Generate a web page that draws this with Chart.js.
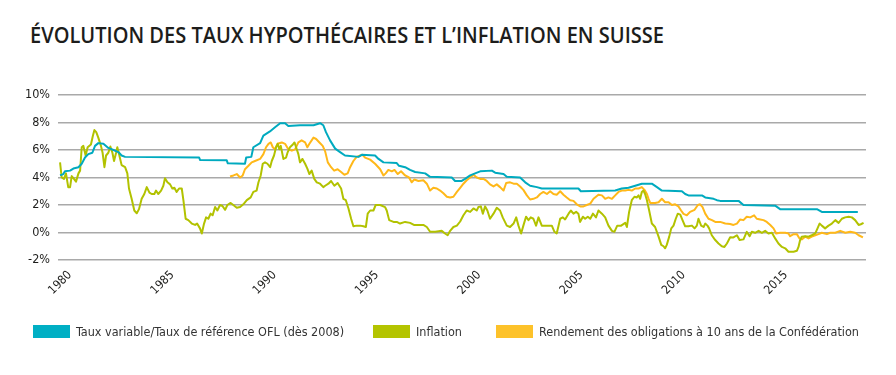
<!DOCTYPE html>
<html lang="fr">
<head>
<meta charset="UTF-8">
<title>Évolution des taux hypothécaires et l'inflation en Suisse</title>
<style>
    html, body { margin: 0; padding: 0; background: #fff; }
    body {
        width: 896px; height: 375px; position: relative; overflow: hidden;
        font-family: "Liberation Sans Narrow", "DejaVu Sans Condensed", sans-serif;
        color: #1d1d1b;
    }
    #title {
        position: absolute; left: 30px; top: 25px;
        font-family: "Open Sans", sans-serif; font-weight: 600;
        font-size: 21px; line-height: 21px; white-space: nowrap;
        transform-origin: 0 0; color: #1d1d1b;
    }
    #chart { position: absolute; left: 0; top: 0; }
    .item {
        position: absolute; top: 324px; font-size: 12.5px; line-height: 15px;
        white-space: nowrap; color: #333;
    }
    .item i {
        display: inline-block; width: 37px; height: 13px;
        vertical-align: -2px; margin-right: 6px;
    }
</style>
<script src="https://cdn.jsdelivr.net/npm/chart.js"></script>
</head>
<body>
<div id="title">ÉVOLUTION DES TAUX HYPOTHÉCAIRES ET L’INFLATION EN SUISSE</div>
<canvas id="chart" width="896" height="375"></canvas>
<div class="item" style="left:33px"><i style="background:#00afc4"></i>Taux variable/Taux de référence OFL (dès 2008)</div>
<div class="item" style="left:373px"><i style="background:#b4c400"></i>Inflation</div>
<div class="item" style="left:496px"><i style="background:#fdc22a"></i>Rendement des obligations à 10 ans de la Confédération</div>

<script>
// tick labels
const yearTicks = [1980, 1985, 1990, 1995, 2000, 2005, 2010, 2015];
const pctTicks = [-2, 0, 2, 4, 6, 8, 10];

// Taux variable / taux de référence OFL
const tauxYears = [1980.1, 1980.26, 1980.34, 1980.59, 1980.75, 1981.0, 1981.16, 1981.32, 1981.48, 1981.68,
    1981.81, 1981.97, 1982.22, 1982.46, 1982.71, 1982.95, 1983.11, 1983.28, 1986.9, 1986.95,
    1988.25, 1988.3, 1989.14, 1989.2, 1989.45, 1989.55, 1989.88, 1990.04, 1990.36, 1990.61,
    1990.86, 1991.1, 1991.26, 1991.83, 1992.49, 1992.81, 1992.97, 1993.1, 1993.3, 1993.55,
    1993.79, 1994.03, 1994.69, 1994.85, 1995.5, 1995.67, 1995.91, 1996.56, 1996.67, 1996.97,
    1997.21, 1997.46, 1997.95, 1998.19, 1999.25, 1999.41, 1999.74, 1999.9, 2000.15, 2000.39,
    2000.64, 2001.21, 2001.37, 2001.78, 2001.94, 2002.59, 2002.84, 2003.08, 2003.41, 2003.65,
    2005.44, 2005.56, 2007.24, 2007.56, 2007.89, 2008.22, 2008.54, 2009.03, 2009.28, 2009.52,
    2010.5, 2010.66, 2010.82, 2011.48, 2011.64, 2012.05, 2012.21, 2012.37, 2013.27, 2013.51,
    2015.06, 2015.3, 2017.1, 2017.34, 2019.1];
const tauxValues = [4.15, 4.25, 4.45, 4.5, 4.65, 4.75, 5.0, 5.45, 5.7, 5.8,
    6.3, 6.5, 6.45, 6.15, 6.0, 5.85, 5.6, 5.5, 5.45, 5.27,
    5.25, 5.03, 5.0, 5.45, 5.5, 6.2, 6.5, 7.05, 7.35, 7.65,
    7.95, 7.95, 7.75, 7.8, 7.8, 7.95, 7.8, 7.3, 6.7, 6.1,
    5.85, 5.6, 5.5, 5.65, 5.6, 5.35, 5.1, 5.05, 4.85, 4.75,
    4.55, 4.4, 4.3, 4.05, 4.0, 3.75, 3.75, 3.9, 4.15, 4.3,
    4.45, 4.5, 4.35, 4.25, 4.05, 4.0, 3.65, 3.4, 3.3, 3.2,
    3.2, 3.0, 3.05, 3.2, 3.25, 3.4, 3.55, 3.55, 3.3, 3.05,
    3.0, 2.8, 2.7, 2.7, 2.55, 2.45, 2.35, 2.3, 2.3, 2.0,
    1.95, 1.7, 1.7, 1.5, 1.5];

// Inflation
const inflYears = [1980.1, 1980.18, 1980.29, 1980.39, 1980.5, 1980.59, 1980.67, 1980.78, 1980.88, 1981.0,
    1981.08, 1981.16, 1981.24, 1981.35, 1981.45, 1981.61, 1981.7, 1981.78, 1981.87, 1981.97,
    1982.1, 1982.18, 1982.27, 1982.35, 1982.46, 1982.56, 1982.66, 1982.74, 1982.84, 1982.9,
    1983.0, 1983.11, 1983.28, 1983.39, 1983.47, 1983.6, 1983.73, 1983.85, 1983.96, 1984.09,
    1984.22, 1984.34, 1984.47, 1984.58, 1984.71, 1984.79, 1984.9, 1985.04, 1985.15, 1985.23,
    1985.35, 1985.48, 1985.59, 1985.69, 1985.8, 1985.92, 1986.05, 1986.13, 1986.24, 1986.37,
    1986.54, 1986.7, 1986.8, 1986.94, 1987.03, 1987.14, 1987.24, 1987.35, 1987.46, 1987.56,
    1987.68, 1987.79, 1987.92, 1988.04, 1988.17, 1988.28, 1988.44, 1988.57, 1988.74, 1988.9,
    1989.06, 1989.23, 1989.42, 1989.55, 1989.71, 1989.8, 1989.91, 1990.01, 1990.12, 1990.24,
    1990.37, 1990.45, 1990.56, 1990.66, 1990.74, 1990.82, 1990.89, 1991.02, 1991.15, 1991.23,
    1991.34, 1991.48, 1991.56, 1991.64, 1991.75, 1991.83, 1991.95, 1992.08, 1992.19, 1992.29,
    1992.4, 1992.53, 1992.65, 1992.81, 1992.97, 1993.06, 1993.22, 1993.35, 1993.51, 1993.67,
    1993.84, 1993.95, 1994.07, 1994.2, 1994.33, 1994.44, 1994.6, 1994.77, 1994.93, 1995.05,
    1995.14, 1995.26, 1995.42, 1995.53, 1995.75, 1995.99, 1996.07, 1996.19, 1996.4, 1996.56,
    1996.72, 1996.97, 1997.21, 1997.4, 1997.62, 1997.86, 1998.03, 1998.19, 1998.44, 1998.76,
    1998.92, 1999.05, 1999.17, 1999.33, 1999.5, 1999.66, 1999.82, 1999.98, 2000.15, 2000.31,
    2000.47, 2000.55, 2000.67, 2000.77, 2000.88, 2000.99, 2001.12, 2001.29, 2001.45, 2001.61,
    2001.74, 2001.94, 2002.1, 2002.27, 2002.4, 2002.51, 2002.64, 2002.75, 2002.88, 2003.0,
    2003.11, 2003.24, 2003.37, 2003.49, 2003.65, 2003.9, 2004.14, 2004.27, 2004.38, 2004.55,
    2004.68, 2004.79, 2004.96, 2005.07, 2005.2, 2005.33, 2005.44, 2005.52, 2005.66, 2005.77,
    2005.9, 2006.02, 2006.15, 2006.3, 2006.42, 2006.59, 2006.75, 2006.91, 2007.08, 2007.2,
    2007.34, 2007.53, 2007.73, 2007.81, 2007.92, 2008.05, 2008.18, 2008.3, 2008.38, 2008.46,
    2008.54, 2008.62, 2008.7, 2008.79, 2008.9, 2009.03, 2009.19, 2009.36, 2009.49, 2009.6,
    2009.68, 2009.76, 2009.88, 2009.98, 2010.09, 2010.2, 2010.3, 2010.42, 2010.53, 2010.66,
    2010.82, 2010.99, 2011.12, 2011.23, 2011.31, 2011.44, 2011.56, 2011.64, 2011.75, 2011.83,
    2011.96, 2012.13, 2012.29, 2012.45, 2012.58, 2012.7, 2012.86, 2013.02, 2013.19, 2013.32,
    2013.51, 2013.67, 2013.81, 2013.92, 2014.08, 2014.25, 2014.41, 2014.57, 2014.73, 2014.9,
    2015.06, 2015.22, 2015.39, 2015.55, 2015.71, 2015.96, 2016.12, 2016.2, 2016.28, 2016.36,
    2016.53, 2016.69, 2016.85, 2017.02, 2017.13, 2017.23, 2017.34, 2017.5, 2017.67, 2017.83,
    2018.0, 2018.16, 2018.32, 2018.48, 2018.65, 2018.81, 2018.97, 2019.14, 2019.25, 2019.38];
const inflValues = [5.1, 4.0, 3.9, 4.3, 3.3, 3.3, 4.1, 3.9, 3.7, 4.3,
    4.5, 6.2, 6.3, 5.6, 6.2, 6.4, 7.0, 7.45, 7.3, 6.9,
    6.3, 5.8, 4.75, 5.6, 5.8, 6.25, 5.8, 5.2, 5.8, 6.2,
    5.6, 4.9, 4.75, 4.3, 3.2, 2.45, 1.6, 1.4, 1.7, 2.45,
    2.8, 3.3, 2.9, 2.8, 2.8, 3.05, 2.8, 3.05, 3.4, 3.95,
    3.65, 3.5, 3.2, 3.25, 2.95, 3.2, 3.2, 2.35, 1.0, 0.9,
    0.65, 0.55, 0.65, 0.3, -0.07, 0.65, 1.1, 1.0, 1.37, 1.25,
    1.85, 1.6, 2.0, 1.93, 1.65, 2.0, 2.15, 2.0, 1.8, 1.85,
    2.05, 2.35, 2.55, 2.95, 3.05, 3.65, 4.15, 5.0, 5.1, 5.0,
    4.75, 5.2, 5.6, 6.2, 6.45, 6.05, 6.3, 5.35, 5.45, 5.85,
    6.2, 6.4, 6.55, 6.2, 5.7, 5.1, 5.35, 5.0, 4.65, 4.25,
    4.5, 3.9, 3.65, 3.55, 3.3, 3.4, 3.55, 3.75, 3.4, 3.6,
    3.2, 2.45, 2.35, 1.75, 1.0, 0.45, 0.5, 0.5, 0.45, 0.4,
    1.37, 1.6, 1.6, 2.0, 2.0, 1.85, 1.6, 0.9, 0.77, 0.77,
    0.65, 0.77, 0.7, 0.55, 0.55, 0.55, 0.4, 0.05, 0.05, 0.12,
    -0.07, -0.2, 0.12, 0.4, 0.5, 0.8, 1.25, 1.6, 1.5, 1.75,
    1.6, 1.85, 1.9, 1.37, 1.9, 1.6, 1.0, 1.37, 1.8, 1.6,
    1.1, 0.5, 0.4, 0.65, 1.1, 0.5, -0.07, 0.5, 1.15, 0.9,
    1.1, 1.0, 0.5, 1.1, 0.5, 0.5, 0.5, 0.05, -0.07, 1.0,
    1.1, 0.95, 1.37, 1.6, 1.37, 1.5, 1.37, 0.77, 1.15, 1.0,
    1.15, 1.0, 1.37, 1.1, 1.6, 1.37, 1.1, 0.5, 0.12, 0.05,
    0.5, 0.5, 0.7, 0.4, 1.5, 2.35, 2.6, 2.55, 2.7, 2.45,
    2.95, 3.05, 2.8, 2.35, 1.6, 0.65, 0.4, -0.3, -0.9, -1.0,
    -1.15, -0.9, -0.3, 0.3, 0.5, 1.0, 1.37, 1.3, 0.9, 0.45,
    0.45, 0.5, 0.3, 0.5, 1.0, 0.5, 0.4, 0.65, 0.5, 0.3,
    -0.2, -0.55, -0.8, -1.0, -1.05, -0.8, -0.35, -0.36, -0.2, -0.55,
    -0.5, 0.05, -0.27, 0.05, -0.02, 0.12, -0.02, 0.12, -0.07, -0.02,
    -0.43, -0.8, -1.05, -1.15, -1.4, -1.4, -1.33, -1.05, -0.55, -0.3,
    -0.27, -0.3, -0.2, -0.07, 0.3, 0.65, 0.5, 0.3, 0.5, 0.65,
    0.9, 0.7, 1.0, 1.1, 1.15, 1.1, 0.9, 0.55, 0.6, 0.7];

// Rendement des obligations à 10 ans de la Confédération
const rendYears = [1988.41, 1988.58, 1988.74, 1988.9, 1989.03, 1989.14, 1989.31, 1989.47, 1989.63, 1989.88,
    1990.04, 1990.17, 1990.29, 1990.4, 1990.5, 1990.61, 1990.73, 1990.94, 1991.1, 1991.26,
    1991.43, 1991.59, 1991.75, 1991.91, 1992.08, 1992.19, 1992.29, 1992.49, 1992.62, 1992.78,
    1992.94, 1993.06, 1993.19, 1993.35, 1993.5, 1993.67, 1993.84, 1994.0, 1994.16, 1994.28,
    1994.44, 1994.6, 1994.77, 1994.88, 1995.01, 1995.26, 1995.5, 1995.75, 1995.91, 1996.02,
    1996.15, 1996.32, 1996.45, 1996.61, 1996.77, 1996.97, 1997.16, 1997.29, 1997.42, 1997.62,
    1997.86, 1998.03, 1998.19, 1998.35, 1998.52, 1998.68, 1998.84, 1999.01, 1999.17, 1999.33,
    1999.5, 1999.66, 1999.82, 1999.98, 2000.15, 2000.31, 2000.47, 2000.64, 2000.8, 2000.96,
    2001.12, 2001.29, 2001.45, 2001.61, 2001.78, 2001.91, 2002.1, 2002.27, 2002.43, 2002.59,
    2002.75, 2002.92, 2003.08, 2003.24, 2003.41, 2003.57, 2003.73, 2003.9, 2004.06, 2004.22,
    2004.38, 2004.55, 2004.71, 2004.87, 2005.04, 2005.2, 2005.36, 2005.53, 2005.69, 2005.85,
    2006.02, 2006.18, 2006.42, 2006.59, 2006.75, 2006.91, 2007.08, 2007.24, 2007.4, 2007.56,
    2007.73, 2007.89, 2008.05, 2008.22, 2008.38, 2008.54, 2008.67, 2008.79, 2008.87, 2008.95,
    2009.19, 2009.36, 2009.52, 2009.68, 2009.85, 2010.01, 2010.17, 2010.33, 2010.46, 2010.58,
    2010.74, 2010.9, 2011.12, 2011.28, 2011.39, 2011.51, 2011.64, 2011.8, 2011.97, 2012.13,
    2012.37, 2012.62, 2012.86, 2013.02, 2013.19, 2013.35, 2013.51, 2013.67, 2013.84, 2014.03,
    2014.16, 2014.33, 2014.49, 2014.65, 2014.82, 2014.98, 2015.11, 2015.3, 2015.55, 2015.71,
    2015.79, 2015.96, 2016.12, 2016.25, 2016.36, 2016.53, 2016.69, 2016.85, 2017.02, 2017.18,
    2017.34, 2017.59, 2017.75, 2018.0, 2018.24, 2018.49, 2018.73, 2018.97, 2019.14, 2019.35];
const rendValues = [4.07, 4.15, 4.25, 4.0, 4.15, 4.6, 4.85, 5.1, 5.2, 5.35,
    5.7, 6.2, 6.45, 6.55, 6.2, 6.05, 6.45, 6.55, 6.45, 6.05,
    5.95, 6.05, 6.55, 6.7, 6.55, 6.2, 6.45, 6.9, 6.8, 6.55,
    6.3, 5.9, 5.1, 4.75, 4.5, 4.6, 4.4, 4.2, 4.3, 4.75,
    5.2, 5.5, 5.6, 5.65, 5.45, 5.3, 5.0, 4.6, 4.15, 4.3,
    4.55, 4.45, 4.55, 4.25, 4.45, 4.15, 4.0, 3.65, 3.85, 3.75,
    3.8, 3.55, 3.05, 3.25, 3.2, 3.05, 2.85, 2.6, 2.55, 2.6,
    2.95, 3.25, 3.55, 3.8, 4.0, 4.2, 4.0, 3.9, 3.9, 3.75,
    3.5, 3.35, 3.5, 3.3, 3.05, 3.6, 3.65, 3.55, 3.55, 3.35,
    3.1, 2.7, 2.4, 2.45, 2.55, 2.8, 2.95, 2.8, 3.0, 2.8,
    2.75, 3.0, 2.75, 2.55, 2.35, 2.3, 2.05, 1.9, 1.9, 2.0,
    2.1, 2.45, 2.75, 2.7, 2.45, 2.55, 2.45, 2.7, 2.95, 3.05,
    3.05, 3.1, 3.05, 3.2, 3.2, 3.3, 3.1, 2.8, 2.45, 2.15,
    2.15, 2.2, 2.45, 2.2, 2.2, 2.0, 2.05, 1.9, 1.6, 1.35,
    1.25, 1.5, 1.65, 2.0, 2.05, 1.85, 1.37, 1.0, 0.9, 0.77,
    0.77, 0.65, 0.62, 0.55, 0.65, 0.95, 0.9, 1.15, 1.1, 1.25,
    1.0, 0.95, 0.9, 0.77, 0.55, 0.3, -0.07, -0.02, -0.02, -0.07,
    -0.27, -0.12, -0.12, -0.43, -0.5, -0.3, -0.43, -0.3, -0.2, -0.12,
    -0.02, -0.12, -0.02, -0.02, 0.12, -0.02, 0.05, -0.02, -0.2, -0.36];

function toPoints(xs, ys) {
    return xs.map((x, i) => ({ x: x, y: ys[i] }));
}

const tickFont = { family: '"Liberation Sans Narrow", "DejaVu Sans Condensed", sans-serif', size: 12.5 };

function lineSet(label, color, xs, ys) {
    return {
        label: label,
        data: toPoints(xs, ys),
        borderColor: color,
        backgroundColor: color,
        borderWidth: 2,
        pointRadius: 0,
        tension: 0,
        borderJoinStyle: 'round'
    };
}

new Chart(document.getElementById('chart'), {
    type: 'line',
    data: {
        datasets: [
            lineSet('Taux variable/Taux de référence OFL (dès 2008)', '#00aabf', tauxYears, tauxValues),
            lineSet('Inflation', '#b2c200', inflYears, inflValues),
            lineSet('Rendement des obligations à 10 ans de la Confédération', '#ffb819', rendYears, rendValues)
        ]
    },
    options: {
        responsive: false,
        animation: false,
        layout: { padding: { left: 0, right: 30, top: 95, bottom: 75 } },
        plugins: { legend: { display: false }, tooltip: { enabled: false } },
        scales: {
            x: {
                type: 'linear',
                min: 1980,
                max: 2019.5,
                afterFit: s => { s.height = 40; },
                afterBuildTicks: s => { s.ticks = yearTicks.map(v => ({ value: v })); },
                grid: { display: false },
                border: { display: false },
                ticks: {
                    autoSkip: false,
                    maxRotation: 45,
                    minRotation: 45,
                    labelOffset: 12,
                    padding: 0,
                    color: '#1d1d1b',
                    font: { family: tickFont.family, size: 12 },
                    callback: v => String(v)
                }
            },
            y: {
                min: -2,
                max: 10,
                afterFit: s => { s.width = 58; },
                afterBuildTicks: s => { s.ticks = pctTicks.map(v => ({ value: v })); },
                grid: { color: '#a9a9a9', lineWidth: 1.6, drawTicks: false },
                border: { display: false },
                ticks: {
                    padding: 8,
                    color: '#1d1d1b',
                    font: tickFont,
                    callback: v => v + '%'
                }
            }
        }
    }
});

// squeeze the title to the width it has in the original
const title = document.getElementById('title');
title.style.transform = 'scaleX(' + (634 / title.getBoundingClientRect().width) + ')';
</script>
</body>
</html>
